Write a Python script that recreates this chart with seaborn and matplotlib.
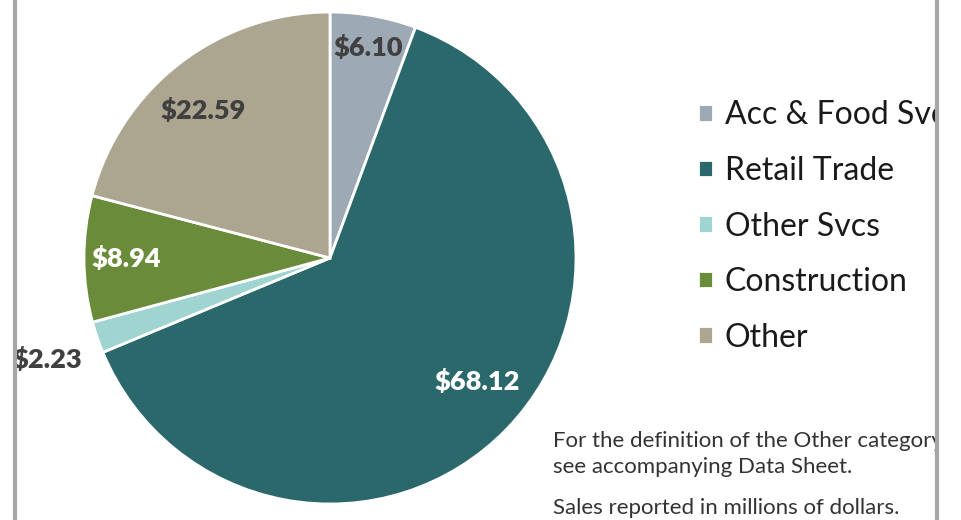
import numpy as np
import matplotlib
matplotlib.use("Agg")
import matplotlib.pyplot as plt
import seaborn as sns
from matplotlib.patches import Rectangle
from matplotlib.lines import Line2D

# Data (sales, millions of dollars)
categories = ["Acc & Food Svcs", "Retail Trade", "Other Svcs", "Construction", "Other"]
values = [6.10, 68.12, 2.23, 8.94, 22.59]
colors = ["#9ea9b6", "#2a686c", "#9fd4d0", "#6a8b3a", "#aca590"]
label_colors = ["#404040", "white", "#404040", "white", "#404040"]
notes = ["For the definition of the Other category",
         "see accompanying Data Sheet.",
         "Sales reported in millions of dollars."]

# where each value label sits: fraction of radius, angle tweak (deg)
label_dist = [0.87, 0.78, 1.22, 0.83, 0.79]
label_shift = [0, 4, 1, 0, 3]

sns.set_theme(style="white")
plt.rcParams["font.family"] = ["Lato", "DejaVu Sans"]

W, H = 961, 520
fig = plt.figure(figsize=(W / 100, H / 100), dpi=100)
fig.patch.set_facecolor("white")

# pie centre ~ (330, 258) px, radius ~246 px
cx, cy, r = 330, 258, 246
ax = fig.add_axes([(cx - r) / W, (H - cy - r) / H, 2 * r / W, 2 * r / H])
wedges, _ = ax.pie(values, colors=colors, startangle=90, counterclock=False,
                   radius=1, wedgeprops=dict(edgecolor="white", linewidth=2))
ax.set_xlim(-1, 1)
ax.set_ylim(-1, 1)
ax.axis("off")

for i, w in enumerate(wedges):
    ang = np.deg2rad((w.theta1 + w.theta2) / 2 + label_shift[i])
    d = label_dist[i]
    ax.text(d * np.cos(ang), d * np.sin(ang), f"${values[i]:.2f}",
            ha="center", va="center", fontsize=19.5, fontweight="heavy",
            color=label_colors[i])

leg = fig.legend(wedges, categories, loc="center left",
                 bbox_to_anchor=(698 / W, 1 - 226.5 / H),
                 frameon=False, fontsize=23, handlelength=0.47, handleheight=0.47,
                 handletextpad=0.37, labelspacing=0.8,
                 borderpad=0, borderaxespad=0)
for t in leg.get_texts():
    t.set_color("#1a1a1a")

for y, txt in zip([441, 467, 508], notes):
    fig.text(553 / W, 1 - y / H, txt, va="center", ha="left",
             fontsize=16, color="#333333")

# frame edges of the original slide
fig.patches.append(Rectangle((939 / W, 0), (W - 939) / W, 1, transform=fig.transFigure,
                             facecolor="white", edgecolor="none", zorder=10))
for x in [15, 937]:
    fig.lines.append(Line2D([x / W, x / W], [0, 1], transform=fig.transFigure,
                            color="#a6a6a6", linewidth=3, zorder=11))

fig.savefig("out.png", dpi=100)
